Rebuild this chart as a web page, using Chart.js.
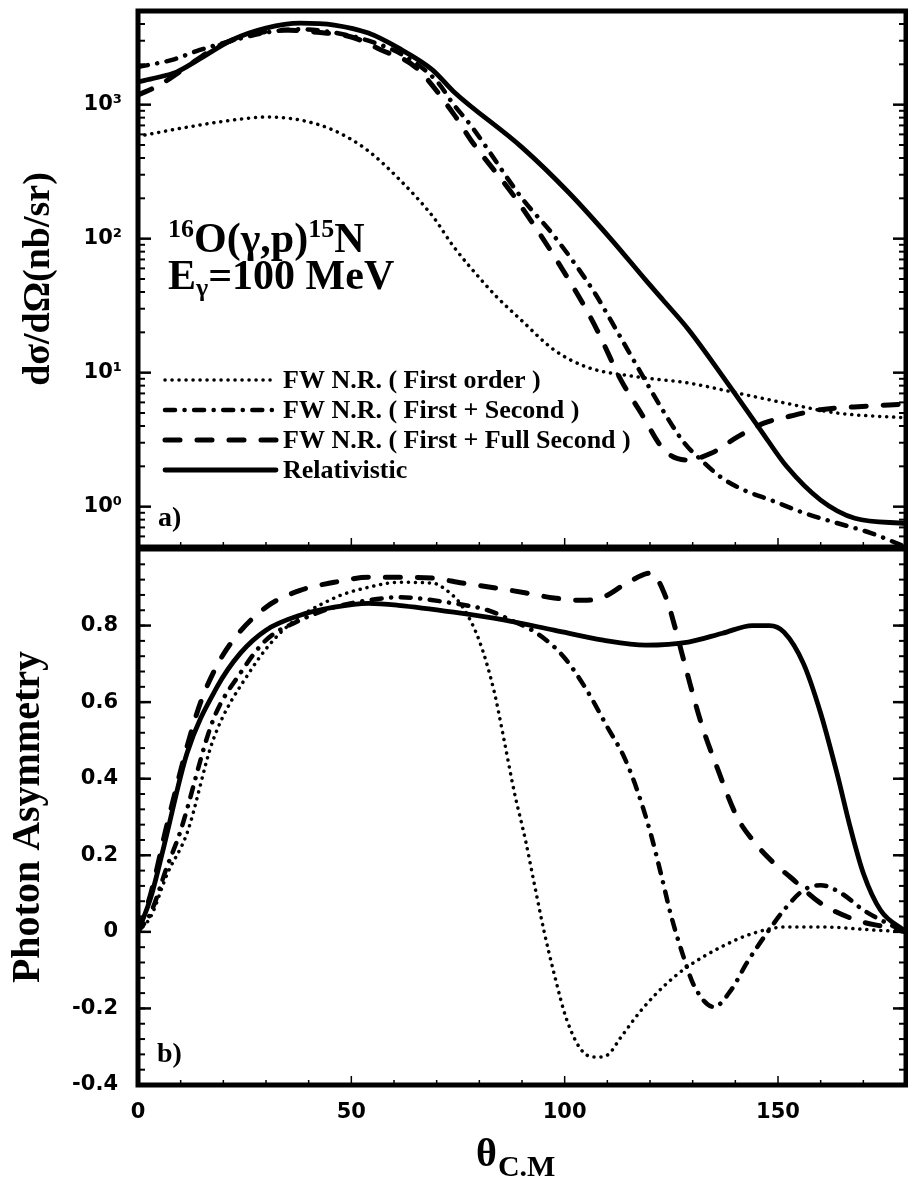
<!DOCTYPE html>
<html><head><meta charset="utf-8">
<script src="https://cdn.jsdelivr.net/npm/chart.js@4/dist/chart.umd.min.js"></script>
<style>
html,body{margin:0;padding:0;background:#fff;}
#wrap{position:relative;width:908px;height:1181px;overflow:hidden;background:#fff;}
#c1{position:absolute;left:0;top:0;}
#c2{position:absolute;left:0;top:548px;}
</style></head><body>
<div id="wrap"><canvas id="c1" width="908" height="548"></canvas><canvas id="c2" width="908" height="633"></canvas></div>
<script>
// ---------- Series names ----------
const seriesNames = ['FW N.R. ( First order )', 'FW N.R. ( First + Second )', 'FW N.R. ( First + Full Second )', 'Relativistic'];

// ---------- Panel a) : cross section (nb/sr) ----------
const thetaA_first = [0, 10.5, 22.3, 30.2, 38, 45.7, 53.7, 61.4, 69.2, 74, 81, 84, 89.8, 97.5, 105.2, 117, 128.7, 140.4, 152, 163.8, 180];
const sigma_first  = [580, 670, 768, 809, 768, 647, 459, 274, 145, 87, 47, 37, 24.7, 14.8, 11, 9.3, 8.4, 7.05, 5.9, 5.0, 4.6];

const thetaA_second = [0, 8, 14.5, 22, 30, 38, 46, 54, 62, 70, 74, 78, 90, 97.5, 106.9, 111, 118, 122.6, 128, 132, 136.6, 142, 148.3, 156, 163.8, 171.8, 180];
const sigma_second  = [1910, 2160, 2560, 3000, 3450, 3650, 3450, 3000, 2350, 1500, 1000, 700, 200, 105, 40, 24, 9.8, 5.5, 3.0, 2.23, 1.66, 1.33, 1.12, 0.90, 0.755, 0.635, 0.5];

const thetaA_full = [0, 5, 11.4, 18.5, 26, 34, 42, 50, 57, 65, 74, 78, 88.5, 102.9, 107.6, 113.2, 117.9, 123.3, 128.7, 134.3, 140.4, 146.7, 152, 160, 167.8, 180];
const sigma_full  = [1180, 1400, 1910, 2700, 3300, 3600, 3470, 3200, 2560, 1910, 850, 545, 200, 39, 20.8, 8.8, 5.0, 2.65, 2.23, 2.5, 3.3, 4.2, 4.67, 5.3, 5.55, 5.84];

const thetaA_rel = [0, 4, 9, 14, 22, 30, 38, 46, 54, 61, 69, 74, 90, 101, 111, 119, 123, 129, 138, 146, 152, 160, 168, 180];
const sigma_rel  = [1480, 1580, 1750, 2150, 3040, 3730, 4060, 3930, 3420, 2650, 1820, 1250, 480, 220, 98, 49, 35, 21, 8.5, 3.7, 2.0, 1.12, 0.82, 0.75];

const topTickValues = [1, 10, 100, 1000];
const topTickLabels = ['10\u2070', '10\u00B9', '10\u00B2', '10\u00B3'];

// ---------- Panel b) : photon asymmetry ----------
const thetaB_first = [0, 3, 6.8, 11.5, 17.6, 26, 34, 46, 54, 61, 69, 72, 76, 80, 83.4, 85.8, 88.1, 90.9, 92.8, 95.1, 97.5, 100.5, 104.5, 107.6, 110, 113.2, 118, 124, 128.7, 136.6, 144.4, 152, 160, 172, 180];
const asym_first   = [0, 0.04, 0.15, 0.258, 0.501, 0.676, 0.788, 0.872, 0.90, 0.913, 0.911, 0.895, 0.85, 0.76, 0.631, 0.501, 0.37, 0.235, 0.13, 0.005, -0.108, -0.23, -0.316, -0.327, -0.322, -0.275, -0.204, -0.134, -0.092, -0.04, -0.003, 0.013, 0.013, 0.005, 0];

const thetaB_second = [0, 3, 6.8, 9.8, 17.6, 24, 30, 38, 46, 54, 61, 74, 82, 87.4, 93.5, 99.8, 105.2, 110, 114, 117, 120.2, 122.6, 125, 128, 130.3, 135, 139, 142.7, 147.4, 152, 156, 160, 164.8, 170, 175.5, 180];
const asym_second   = [0, 0.05, 0.17, 0.258, 0.553, 0.676, 0.762, 0.814, 0.848, 0.866, 0.874, 0.858, 0.84, 0.814, 0.78, 0.718, 0.631, 0.535, 0.455, 0.37, 0.255, 0.15, 0.04, -0.07, -0.14, -0.196, -0.152, -0.081, -0.003, 0.065, 0.109, 0.122, 0.101, 0.057, 0.023, 0];

const thetaB_full = [0, 3, 6.8, 13.8, 17.6, 22.3, 30, 38, 46, 54, 61, 69, 76, 84, 91, 97.5, 104, 109, 114.6, 120.2, 124, 125.6, 128.7, 132, 135.7, 140.4, 144.4, 149, 153, 160, 168, 175, 180];
const asym_full   = [0, 0.1, 0.28, 0.571, 0.676, 0.762, 0.848, 0.892, 0.913, 0.926, 0.926, 0.924, 0.911, 0.898, 0.885, 0.872, 0.866, 0.874, 0.911, 0.937, 0.866, 0.806, 0.676, 0.545, 0.43, 0.30, 0.235, 0.18, 0.142, 0.075, 0.032, 0.013, 0];

const thetaB_rel = [0, 3, 6, 11.5, 18.5, 24, 30, 38, 46, 54, 61, 74, 86, 97.5, 109, 119, 129, 137, 144, 148, 151.4, 156, 160, 163.8, 167, 170, 174, 180];
const asym_rel   = [0, 0.09, 0.22, 0.467, 0.639, 0.728, 0.788, 0.827, 0.848, 0.858, 0.853, 0.835, 0.814, 0.788, 0.762, 0.749, 0.757, 0.78, 0.80, 0.80, 0.783, 0.70, 0.571, 0.415, 0.27, 0.153, 0.057, 0];

const bottomTickValues = [-0.4, -0.2, 0, 0.2, 0.4, 0.6, 0.8];
const bottomTickLabels = ['-0.4', '-0.2', '0', '0.2', '0.4', '0.6', '0.8'];
const xTickValues = [0, 50, 100, 150];
const xTickLabels = ['0', '50', '100', '150'];

// ---------- styles ----------
const styles = [
  {borderWidth: 3.5, borderDash: [0.1, 6.9]},
  {borderWidth: 4.5, borderDash: [10, 9.5, 0.1, 9.5]},
  {borderWidth: 5, borderDash: [15, 17]},
  {borderWidth: 4.8, borderDash: []}
];
const pts = (xs, ys) => xs.map((t, i) => ({x: t, y: ys[i]}));
function makeDatasets(series) {
  return series.map((d, i) => ({
    label: seriesNames[i], data: d, borderColor: '#000', backgroundColor: '#000',
    borderWidth: styles[i].borderWidth, borderDash: styles[i].borderDash,
    borderCapStyle: 'round', borderJoinStyle: 'round',
    pointRadius: 0, fill: false, cubicInterpolationMode: 'monotone'
  }));
}

const SERIF = '"Liberation Serif", "Times New Roman", serif';
const SANS = '"DejaVu Sans", sans-serif';

function noPad(s) { s.paddingTop = 0; s.paddingBottom = 0; s.paddingLeft = 0; s.paddingRight = 0; }

function drawFrame(chart, yMajor, yMinor) {
  const {ctx, chartArea: a, scales} = chart;
  ctx.save();
  ctx.strokeStyle = '#000';
  const seg = (x1, y1, x2, y2) => { ctx.beginPath(); ctx.moveTo(x1, y1); ctx.lineTo(x2, y2); ctx.stroke(); };
  ctx.lineWidth = 2;
  for (const v of yMinor) {
    const p = scales.y.getPixelForValue(v);
    if (p < a.top + 2 || p > a.bottom - 2) continue;
    seg(a.left, p, a.left + 7, p); seg(a.right, p, a.right - 7, p);
  }
  ctx.lineWidth = 2.5;
  for (const v of yMajor) {
    const p = scales.y.getPixelForValue(v);
    seg(a.left, p, a.left + 13, p); seg(a.right, p, a.right - 13, p);
  }
  ctx.lineWidth = 1.5;
  for (let t = 10; t < 180; t += 10) {
    const p = scales.x.getPixelForValue(t);
    seg(p, a.bottom, p, a.bottom - (t % 50 === 0 ? 9 : 5));
  }
  ctx.lineWidth = 5;
  ctx.strokeRect(a.left, a.top, a.right - a.left, a.bottom - a.top);
  ctx.restore();
}

const commonX = {
  type: 'linear', min: 0, max: 180,
  grid: {display: false, drawTicks: false}, border: {display: false}
};

// ---------- Chart a) ----------
const plugA = {
  id: 'plugA',
  afterDraw(chart) {
    const minor = [];
    for (let e = -1; e <= 3; e++) for (let m = 2; m <= 9; m++) minor.push(m * Math.pow(10, e));
    drawFrame(chart, topTickValues, minor);
    const ctx = chart.ctx;
    ctx.save();
    ctx.fillStyle = '#000';
    ctx.textBaseline = 'alphabetic';
    let x = 168;
    const big = 'bold 42px ' + SERIF, sm = 'bold 26px ' + SERIF;
    const put = (txt, font, dy) => { ctx.font = font; ctx.fillText(txt, x, 252 + dy); x += ctx.measureText(txt).width; };
    put('16', sm, -15); put('O(\u03B3,p)', big, 0); put('15', sm, -15); put('N', big, 0);
    x = 168;
    const put2 = (txt, font, dy) => { ctx.font = font; ctx.fillText(txt, x, 289 + dy); x += ctx.measureText(txt).width; };
    put2('E', big, 0); put2('\u03B3', sm, 7); put2('=100 MeV', big, 0);
    ctx.font = 'bold 28px ' + SERIF;
    ctx.fillText('a)', 158, 526);
    const rows = [380, 410, 440, 470];
    rows.forEach((y, i) => {
      ctx.save();
      ctx.lineWidth = styles[i].borderWidth;
      ctx.setLineDash(styles[i].borderDash);
      ctx.lineCap = 'round';
      ctx.beginPath(); ctx.moveTo(165, y); ctx.lineTo(276, y); ctx.stroke();
      ctx.restore();
      ctx.font = 'bold 26px ' + SERIF;
      ctx.textBaseline = 'middle';
      ctx.fillText(seriesNames[i], 283, y + 1);
    });
    ctx.restore();
  }
};

new Chart(document.getElementById('c1'), {
  type: 'line',
  data: {datasets: makeDatasets([pts(thetaA_first, sigma_first), pts(thetaA_second, sigma_second), pts(thetaA_full, sigma_full), pts(thetaA_rel, sigma_rel)])},
  options: {
    responsive: false, animation: false, devicePixelRatio: 1,
    layout: {padding: {left: 0, top: 11, right: 2, bottom: 1}},
    plugins: {legend: {display: false}, tooltip: {enabled: false}},
    scales: {
      x: Object.assign({}, commonX, {display: false}),
      y: {
        type: 'logarithmic', min: 0.5, max: 5000,
        grid: {display: false, drawTicks: false}, border: {display: false},
        afterBuildTicks: s => { s.ticks = topTickValues.map(v => ({value: v})); },
        afterFit: s => { s.width = 138; noPad(s); },
        ticks: {padding: 16, color: '#000', font: {family: SANS, weight: 'bold', size: 21},
                callback: (v, i) => topTickLabels[i]},
        title: {display: true, text: 'd\u03C3/d\u03A9(nb/sr)', color: '#000',
                font: {family: SERIF, weight: 'bold', size: 38, lineHeight: 1}, padding: {top: 20, bottom: 0}}
      }
    }
  },
  plugins: [plugA]
});

// ---------- Chart b) ----------
const plugB = {
  id: 'plugB',
  afterDraw(chart) {
    const minor = [];
    for (let k = -10; k <= 25; k++) minor.push(k * 0.04);
    drawFrame(chart, bottomTickValues, minor);
    const ctx = chart.ctx;
    ctx.save();
    ctx.fillStyle = '#000';
    ctx.textBaseline = 'alphabetic';
    ctx.font = 'bold 28px ' + SERIF;
    ctx.fillText('b)', 157, 514);
    ctx.font = 'bold 40px ' + SERIF;
    ctx.fillText('\u03B8', 476, 618);
    const w = ctx.measureText('\u03B8').width;
    ctx.font = 'bold 30px ' + SERIF;
    ctx.fillText('C.M', 476 + w + 1, 628);
    ctx.restore();
  }
};

new Chart(document.getElementById('c2'), {
  type: 'line',
  data: {datasets: makeDatasets([pts(thetaB_first, asym_first), pts(thetaB_second, asym_second), pts(thetaB_full, asym_full), pts(thetaB_rel, asym_rel)])},
  options: {
    responsive: false, animation: false, devicePixelRatio: 1,
    layout: {padding: {left: 0, top: 1, right: 2, bottom: 0}},
    plugins: {legend: {display: false}, tooltip: {enabled: false}},
    scales: {
      x: Object.assign({}, commonX, {
        afterBuildTicks: s => { s.ticks = xTickValues.map(v => ({value: v})); },
        afterFit: s => { s.height = 96; noPad(s); },
        ticks: {padding: 15, color: '#000', maxRotation: 0, autoSkip: false,
                font: {family: SANS, weight: 'bold', size: 21},
                callback: (v, i) => xTickLabels[i]}
      }),
      y: {
        type: 'linear', min: -0.4, max: 1.0,
        grid: {display: false, drawTicks: false}, border: {display: false},
        afterBuildTicks: s => { s.ticks = bottomTickValues.map(v => ({value: v})); },
        afterFit: s => { s.width = 138; noPad(s); },
        ticks: {padding: 20, color: '#000', font: {family: SANS, weight: 'bold', size: 21},
                callback: (v, i) => bottomTickLabels[i]},
        title: {display: true, text: 'Photon Asymmetry', color: '#000',
                font: {family: SERIF, weight: 'bold', size: 40, lineHeight: 1}, padding: {top: 9, bottom: 0}}
      }
    }
  },
  plugins: [plugB]
});
</script>
</body></html>
